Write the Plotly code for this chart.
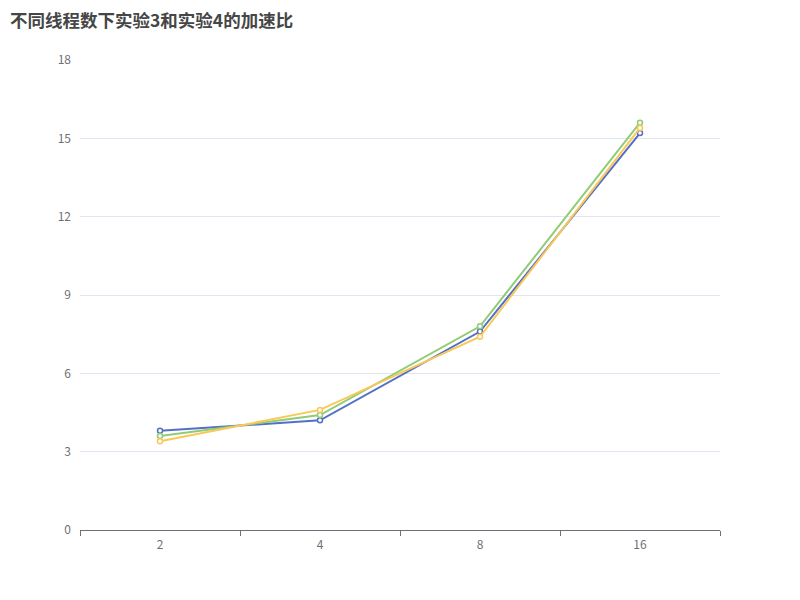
import plotly.graph_objects as go

# ------------------ data ------------------
threads = ["2", "4", "8", "16"]
series_a = [3.8, 4.2, 7.6, 15.2]
series_b = [3.6, 4.4, 7.8, 15.6]
series_c = [3.4, 4.6, 7.4, 15.4]

names = ["系列1", "系列2", "系列3"]
colors = ["#5470c6", "#91cc75", "#fac858"]

fig = go.Figure()
for name, ys, col in zip(names, [series_a, series_b, series_c], colors):
    fig.add_trace(go.Scatter(
        x=threads, y=ys, name=name, mode="lines+markers",
        line=dict(color=col, width=2),
        marker=dict(symbol="circle", size=5, color="white",
                    line=dict(color=col, width=1.5)),
    ))

font_family = "Noto Sans CJK SC, Noto Sans, sans-serif"

# page has an 8px body margin, so offsets are compensated here
fig.update_layout(
    width=800, height=600,
    paper_bgcolor="white", plot_bgcolor="white",
    margin=dict(l=72, r=88, t=52, b=78),
    showlegend=False,
    font=dict(family=font_family, size=12, color="#6E7079"),
    title=dict(
        text="<b>不同线程数下实验3和实验4的加速比</b>",
        x=2 / 800, xref="container", xanchor="left",
        y=1 - 13 / 600, yref="container", yanchor="middle",
        pad=dict(l=0, t=0),
        font=dict(family=font_family, size=17.5, color="#464646"),
    ),
)

fig.update_xaxes(
    type="category", range=[-0.5, 3.5],
    showgrid=False, showline=True, linecolor="#6E7079", linewidth=1,
    ticks="outside", tickson="boundaries", ticklen=5, tickcolor="#6E7079",
    ticklabelstandoff=4,
    tickfont=dict(size=12, color="#6E7079"), zeroline=False,
)
fig.update_yaxes(
    range=[0, 18], tickvals=[0, 3, 6, 9, 12, 15, 18],
    showgrid=True, gridcolor="#E0E6F1", gridwidth=1,
    showline=False, zeroline=False, ticks="", ticklabelstandoff=8,
    tickfont=dict(size=12, color="#6E7079"),
)

fig.write_html("out.html")
